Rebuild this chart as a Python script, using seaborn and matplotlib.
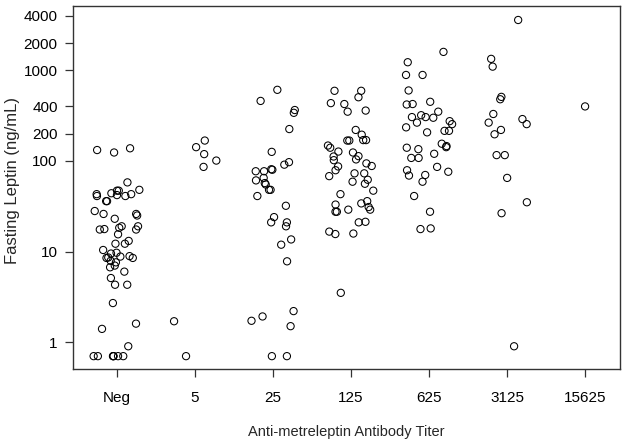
import numpy as np
import pandas as pd
import seaborn as sns
import matplotlib.pyplot as plt
from matplotlib.ticker import FixedLocator, NullLocator

# titer categories as on the x axis
titers = ["Neg", "5", "25", "125", "625", "3125", "15625"]

# fasting leptin (ng/mL), one list per titer group
leptin_neg = [132, 138, 124, 58, 48, 47, 47, 41, 36, 42, 41, 43, 44, 43, 36,
              26, 26, 23, 25, 28, 19, 19, 17.7, 18.3, 17.5, 17.5, 15.5, 13.1,
              12.2, 12.2, 10.4, 9.7, 9.5, 7.6, 7.9, 8.5, 8.9, 8.6, 8.8, 8.5,
              7.0, 6.7, 6.0, 5.1, 4.3, 4.3, 2.7, 1.6, 1.4, 0.9,
              0.7, 0.7, 0.7, 0.7, 0.7, 0.7, 0.7]
leptin_5 = [168, 142, 119, 101, 86, 1.7, 0.7]
leptin_25 = [610, 460, 365, 340, 225, 126, 97, 77, 77, 81, 91, 80, 61, 55, 57,
             65, 41, 48, 48, 32, 21, 24, 21, 19, 13.6, 11.9, 7.8, 2.2, 1.72,
             1.5, 1.92, 0.7, 0.7]
leptin_125 = [595, 595, 505, 435, 425, 360, 350, 220, 195, 170, 170, 148, 168,
              168, 140, 124, 104, 94, 88, 112, 127, 113, 102, 87, 73, 79, 73,
              62, 68, 59, 56, 47, 43, 33, 31, 29, 27.5, 29, 34, 36, 27.5, 21,
              21.3, 15.8, 15.6, 16.6, 3.5]
leptin_625 = [1600, 1230, 890, 890, 600, 425, 420, 450, 350, 305, 305, 320, 300,
              275, 255, 265, 235, 215, 215, 207, 155, 142, 120, 146, 140, 135,
              108, 108, 76, 79, 86, 69, 59, 70, 41, 27.5, 18, 17.7]
leptin_3125 = [3600, 1340, 1100, 480, 510, 330, 255, 290, 265, 220, 197, 116,
               116, 65, 35, 26.5, 0.9]
leptin_15625 = [400]

groups = [leptin_neg, leptin_5, leptin_25, leptin_125, leptin_625, leptin_3125, leptin_15625]
df = pd.DataFrame({
    "titer": np.repeat(titers, [len(g) for g in groups]),
    "leptin": np.concatenate(groups),
})

ytick_vals = [1, 10, 100, 200, 400, 1000, 2000, 4000]

sns.set_style("ticks")
plt.rcParams["font.family"] = ["Liberation Sans", "DejaVu Sans"]

fig, ax = plt.subplots(figsize=(6.29, 4.48), dpi=100)
fig.subplots_adjust(left=0.116, right=0.986, top=0.987, bottom=0.176)

np.random.seed(7)
sns.stripplot(data=df, x="titer", y="leptin", order=titers, jitter=0.3,
              marker="o", s=5.2, facecolor="none", edgecolor="black",
              linewidth=0.75, color="black", ax=ax)

ax.set_yscale("log")
ax.set_ylim(0.503, 5160)
ax.set_xlim(-0.564, 6.45)
ax.yaxis.set_major_locator(FixedLocator(ytick_vals))
ax.yaxis.set_minor_locator(NullLocator())
ax.set_yticklabels([str(v) for v in ytick_vals])

for sp in ax.spines.values():
    sp.set_visible(True)
    sp.set_color("#333333")
    sp.set_linewidth(1.0)
ax.tick_params(axis="both", length=6, width=0.9, color="#333333",
               labelsize=11, labelcolor="black", pad=5)
ax.tick_params(axis="x", pad=10)

ax.set_xlabel("Anti-metreleptin Antibody Titer", fontsize=10.5, labelpad=14)
ax.set_ylabel("Fasting Leptin (ng/mL)", fontsize=12)
ax.yaxis.set_label_coords(-0.097, 0.52)

fig.savefig("out.png", dpi=100)
